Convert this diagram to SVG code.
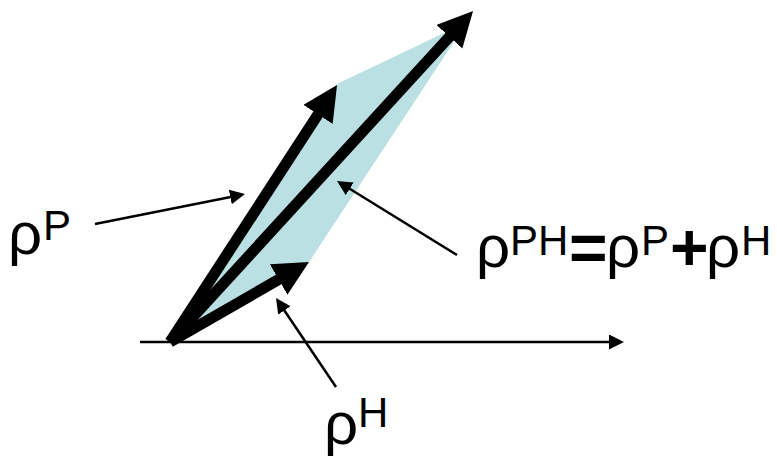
<svg xmlns="http://www.w3.org/2000/svg" width="777" height="458" viewBox="0 0 777 458">
  <style>
    .thick { stroke: #000; stroke-width: 11; fill: none; marker-end: url(#bigHead); }
    .thin { stroke: #000; stroke-width: 2.5; fill: none; marker-end: url(#smallHead); }
    .lbl { font-family: "Liberation Sans", Arial, sans-serif; fill: #000; font-size: 60px; }
    .sup { font-size: 42px; }
    .op { font-size: 66px; font-weight: bold; }
  </style>
  <defs>
    <marker id="bigHead" markerUnits="userSpaceOnUse" markerWidth="36" markerHeight="36" refX="5" refY="17.5" orient="auto" viewBox="0 0 36 36">
      <path d="M0,0 L35,17.5 L0,35 z" fill="#000"/>
    </marker>
    <marker id="smallHead" markerUnits="userSpaceOnUse" markerWidth="16" markerHeight="16" refX="3" refY="7.5" orient="auto" viewBox="0 0 16 16">
      <path d="M0,0 L15,7.5 L0,15 z" fill="#000"/>
    </marker>
  </defs>

  <g id="parallelogram">
    <polygon points="170,342 337,84 467,22 309,262" fill="#bae0e3"/>
  </g>

  <g id="axis">
    <line x1="140" y1="342" x2="612" y2="342" class="thin"/>
  </g>

  <g id="vectors">
    <line id="vecP" x1="170" y1="342" x2="320.7" y2="110.2" class="thick"/>
    <line id="vecPH" x1="170" y1="342" x2="452.8" y2="33.1" class="thick"/>
    <line id="vecH" x1="170" y1="342" x2="283" y2="277" class="thick"/>
  </g>

  <g id="connectors">
    <line x1="95" y1="224" x2="233.2" y2="196.4" class="thin"/>
    <line x1="457" y1="255" x2="347.2" y2="187.3" class="thin"/>
    <line x1="336" y1="387" x2="282.7" y2="308" class="thin"/>
  </g>

  <g id="label-rhoP">
    <text class="lbl" x="8" y="254">ρ<tspan class="sup" x="43" y="240">P</tspan></text>
  </g>

  <g id="label-rhoPH">
    <text class="lbl" x="476" y="267">ρ<tspan class="sup" x="510" y="255">PH</tspan><tspan class="op" x="569" y="271">=</tspan><tspan x="606" y="267">ρ</tspan><tspan class="sup" x="641" y="255">P</tspan><tspan class="op" x="670" y="270">+</tspan><tspan x="706" y="267">ρ</tspan><tspan class="sup" x="741" y="255">H</tspan></text>
  </g>

  <g id="label-rhoH">
    <text class="lbl" x="324" y="444">ρ<tspan class="sup" x="358" y="427">H</tspan></text>
  </g>
</svg>
